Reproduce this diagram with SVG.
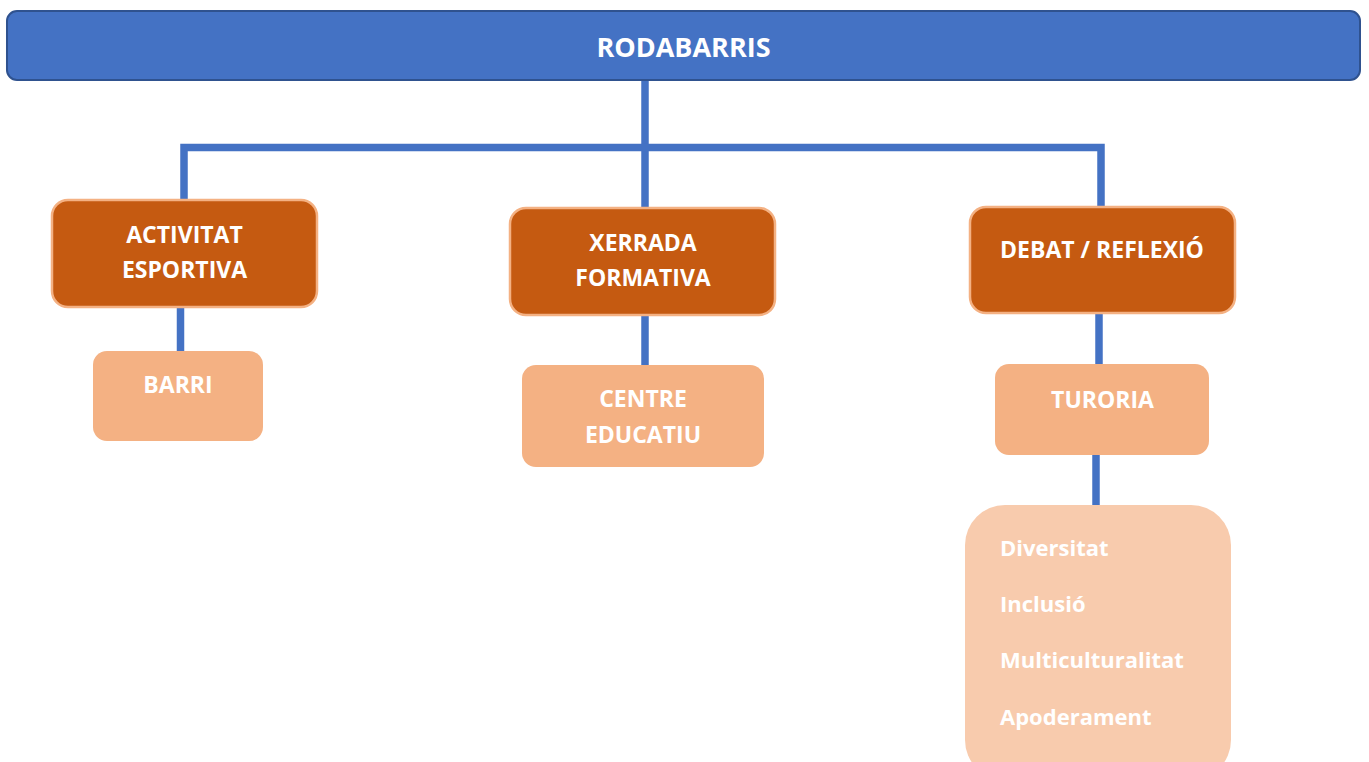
<svg xmlns="http://www.w3.org/2000/svg" width="1369" height="762" viewBox="0 0 1369 762">
<style>
.t{font-family:"Open Sans","Noto Sans","Liberation Sans",sans-serif;font-weight:700;fill:#ffffff}
.c{text-anchor:middle;font-size:23px}
.l{font-size:22px}
.main{fill:#4472C4;stroke:#2F528F;stroke-width:2}
.dark{fill:#C55A11;stroke:#F4B183;stroke-width:2.5}
.light{fill:#F4B183}
.pale{fill:#F8CBAD}
.conn{fill:none;stroke:#4472C4;stroke-width:7.5;stroke-linejoin:miter;stroke-linecap:butt}
</style>
<rect width="1369" height="762" fill="#ffffff"/>
<g id="connectors">
<path class="conn" d="M645 80 V208"/>
<path class="conn" d="M184 200 V147.5 H1101 V207"/>
<path class="conn" d="M180.5 307 V351"/>
<path class="conn" d="M645 315 V365"/>
<path class="conn" d="M1099 313 V364"/>
<path class="conn" d="M1096 455 V505"/>
</g>
<g id="rodabarris">
<rect class="main" x="7" y="11" width="1353" height="69" rx="10"/>
<text class="t" x="683.5" y="57" text-anchor="middle" font-size="27">RODABARRIS</text>
</g>
<g id="activitat">
<rect class="dark" x="52" y="200" width="265" height="107" rx="16"/>
<text class="t c" x="184.5" y="243">ACTIVITAT</text>
<text class="t c" x="184.5" y="278">ESPORTIVA</text>
</g>
<g id="xerrada">
<rect class="dark" x="510" y="208" width="265" height="107" rx="16"/>
<text class="t c" x="643" y="251">XERRADA</text>
<text class="t c" x="643" y="286">FORMATIVA</text>
</g>
<g id="debat">
<rect class="dark" x="970" y="207" width="265" height="106" rx="16"/>
<text class="t c" x="1102" y="258">DEBAT / REFLEXIÓ</text>
</g>
<g id="barri">
<rect class="light" x="93" y="351" width="170" height="90" rx="14"/>
<text class="t c" x="178" y="393">BARRI</text>
</g>
<g id="centre">
<rect class="light" x="522" y="365" width="242" height="102" rx="14"/>
<text class="t c" x="643" y="407">CENTRE</text>
<text class="t c" x="643" y="443">EDUCATIU</text>
</g>
<g id="turoria">
<rect class="light" x="995" y="364" width="214" height="91" rx="14"/>
<text class="t c" x="1102.5" y="408">TURORIA</text>
</g>
<g id="valors">
<rect class="pale" x="965" y="505" width="266" height="275" rx="40"/>
<text class="t l" x="1000" y="556">Diversitat</text>
<text class="t l" x="1000" y="612">Inclusió</text>
<text class="t l" x="1000" y="668">Multiculturalitat</text>
<text class="t l" x="1000" y="725">Apoderament</text>
</g>
</svg>
